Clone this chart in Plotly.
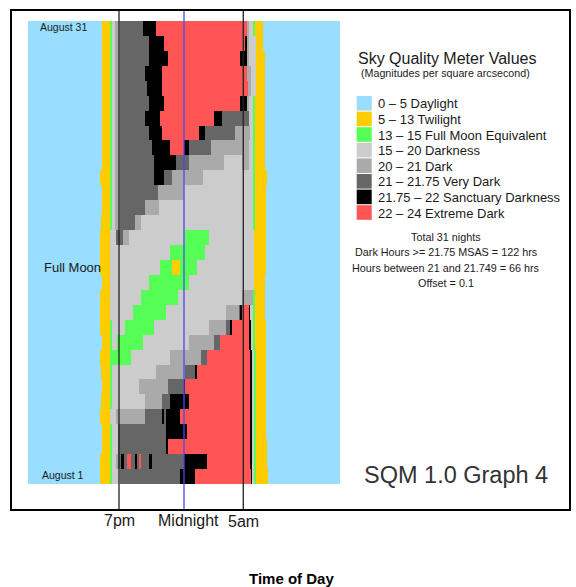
import numpy as np
import plotly.graph_objects as go

# ---------------- data ----------------
level_labels = ["0 – 5 Daylight", "5 – 13 Twilight", "13 – 15 Full Moon Equivalent",
                "15 – 20 Darkness", "20 – 21 Dark", "21 – 21.75 Very Dark",
                "21.75 – 22 Sanctuary Darkness", "22 – 24 Extreme Dark"]
level_colors = ["#99DDFF", "#FFCC00", "#55FF55", "#CCCCCC",
                "#AAAAAA", "#666666", "#000000", "#FF5555"]

night_labels = [f"August {d}" for d in range(1, 32)]

# per night: (SQM level index, end of segment in hours relative to midnight)
night_segments = [
    [(0,-6.46),(1,-5.69),(2,-5.56),(3,-4.92),(5,-0.31),(6,0.85),(7,5.15),(6,5.23),(3,5.38),(2,5.5),(1,6.46),(0,12)],  # Aug 1
    [(0,-6.46),(1,-5.69),(2,-5.56),(3,-5.23),(4,-5.08),(5,-4.85),(6,-4.67),(5,-4.41),(7,-4.1),(5,-3.77),(6,-3.6),(5,-3.46),(7,-3.31),(5,-2.69),(6,-2.48),(5,-0.05),(6,1.75),(7,5.08),(6,5.2),(3,5.35),(2,5.5),(1,6.4),(0,12)],
    [(0,-6.33),(1,-5.69),(2,-5.56),(3,-5.08),(5,-1.41),(6,-1.25),(7,5.08),(6,5.2),(3,5.35),(2,5.5),(1,6.4),(0,12)],
    [(0,-6.33),(1,-5.69),(2,-5.56),(3,-5.08),(5,-1.38),(6,0.23),(7,5.08),(6,5.2),(3,5.35),(2,5.5),(1,6.3),(0,12)],
    [(0,-6.46),(1,-5.69),(3,-5.23),(4,-3.0),(5,-1.69),(6,-1.54),(5,-1.38),(6,-0.31),(7,5.08),(6,5.2),(3,5.35),(2,5.5),(1,6.3),(0,12)],
    [(0,-6.4),(1,-5.69),(2,-5.56),(3,-3.0),(4,-1.69),(5,-1.08),(6,0.38),(7,5.08),(6,5.2),(3,5.35),(2,5.5),(1,6.3),(0,12)],
    [(0,-6.33),(1,-5.69),(2,-5.56),(3,-3.46),(4,-1.23),(5,-0.05),(6,0.08),(7,5.08),(6,5.2),(3,5.35),(2,5.5),(1,6.3),(0,12)],
    [(0,-6.4),(1,-5.69),(2,-5.56),(3,-2.15),(4,0.08),(5,0.85),(6,0.98),(7,5.08),(6,5.2),(3,5.35),(2,5.5),(1,6.3),(0,12)],
    [(0,-6.46),(1,-5.69),(2,-4.08),(3,-1.08),(4,1.31),(5,1.75),(7,5.08),(6,5.2),(3,5.35),(2,5.5),(1,6.3),(0,12)],
    [(0,-6.33),(1,-5.69),(2,-5.56),(3,-5.15),(2,-3.15),(3,0.38),(4,2.31),(5,2.77),(7,5.0),(6,5.15),(3,5.3),(2,5.46),(1,6.3),(0,12)],
    [(0,-6.46),(1,-5.69),(2,-5.56),(3,-4.54),(2,-2.31),(3,1.92),(4,3.23),(5,3.54),(6,3.69),(7,5.0),(6,5.15),(3,5.3),(2,5.46),(1,6.3),(0,12)],
    [(0,-6.46),(1,-5.69),(3,-3.92),(2,-1.41),(3,3.23),(4,4.18),(5,4.31),(6,4.46),(7,5.0),(6,5.08),(3,5.3),(2,5.46),(1,6.23),(0,12)],
    [(0,-6.46),(1,-5.69),(3,-3.31),(2,-0.49),(3,4.46),(4,5.31),(2,5.46),(1,6.23),(0,12)],
    [(0,-6.33),(1,-5.69),(3,-2.69),(2,0.38),(3,5.4),(1,6.23),(0,12)],
    [(0,-6.46),(1,-5.69),(3,-1.85),(2,-0.95),(1,-0.31),(2,0.98),(3,5.4),(1,6.3),(0,12)],
    [(0,-6.46),(1,-5.69),(3,-1.08),(2,1.62),(3,5.4),(1,6.3),(0,12)],
    [(0,-6.46),(1,-5.69),(3,-5.25),(5,-4.69),(4,-4.23),(3,0.02),(2,1.92),(3,5.4),(1,6.3),(0,12)],
    [(0,-6.4),(1,-5.69),(2,-5.56),(3,-5.31),(4,-4.98),(5,-3.77),(4,-3.31),(3,5.3),(2,5.46),(1,6.3),(0,12)],
    [(0,-6.33),(1,-5.69),(2,-5.56),(3,-5.31),(4,-4.98),(5,-3.0),(4,-1.95),(3,5.3),(2,5.46),(1,6.3),(0,12)],
    [(0,-6.33),(1,-5.69),(2,-5.56),(3,-5.31),(4,-4.98),(5,-2.0),(4,0.0),(3,5.3),(2,5.46),(1,6.3),(0,12)],
    [(0,-6.46),(1,-5.69),(2,-5.56),(3,-5.31),(4,-4.98),(5,-2.31),(6,-1.54),(5,-0.92),(4,1.44),(3,5.3),(2,5.46),(1,6.4),(0,12)],
    [(0,-6.33),(1,-5.69),(2,-5.56),(3,-5.31),(4,-4.98),(5,-2.31),(6,-0.62),(5,0.38),(4,3.08),(3,4.46),(4,5.0),(3,5.3),(2,5.46),(1,6.23),(0,12)],
    [(0,-6.33),(1,-5.69),(2,-5.56),(3,-5.31),(4,-4.98),(5,-2.46),(6,-1.08),(7,0.0),(6,0.38),(5,2.08),(4,5.0),(3,5.3),(2,5.46),(1,6.23),(0,12)],
    [(0,-6.33),(1,-5.69),(2,-5.56),(3,-5.31),(4,-4.98),(5,-2.69),(6,-1.69),(7,1.15),(6,1.62),(5,3.92),(4,5.08),(3,5.3),(2,5.46),(1,6.23),(0,12)],
    [(0,-6.33),(1,-5.69),(2,-5.56),(3,-5.31),(4,-4.98),(5,-3.0),(6,-1.85),(7,2.31),(6,2.92),(5,5.0),(3,5.3),(2,5.46),(1,6.23),(0,12)],
    [(0,-6.33),(1,-5.69),(2,-5.56),(3,-5.31),(4,-4.98),(5,-2.69),(6,-1.54),(7,4.31),(6,4.82),(4,5.0),(3,5.3),(2,5.46),(1,6.23),(0,12)],
    [(0,-6.33),(1,-5.69),(2,-5.56),(3,-5.31),(4,-4.98),(5,-2.85),(6,-1.69),(7,4.9),(4,5.1),(3,5.5),(1,6.23),(0,12)],
    [(0,-6.33),(1,-5.69),(2,-5.56),(3,-5.31),(4,-4.98),(5,-3.0),(6,-1.69),(7,4.82),(4,5.15),(3,5.5),(1,6.23),(0,12)],
    [(0,-6.33),(1,-5.69),(2,-5.56),(3,-5.31),(4,-4.98),(5,-2.69),(6,-1.23),(7,4.31),(6,4.82),(4,5.0),(3,5.5),(1,6.23),(0,12)],
    [(0,-6.33),(1,-5.69),(2,-5.56),(3,-5.31),(4,-4.98),(5,-2.69),(6,-1.54),(7,4.69),(6,4.82),(4,5.0),(3,5.5),(1,6.08),(0,12)],
    [(0,-6.33),(1,-5.69),(2,-5.56),(3,-5.31),(4,-4.98),(5,-3.15),(6,-2.15),(7,4.82),(4,5.0),(3,5.28),(2,5.44),(1,6.05),(0,12)],  # Aug 31
]

ref_line_hours = [-5.0, 0.0, 4.56]
ref_line_labels = ["7pm", "Midnight", "5am"]
ref_line_colors = ["#222222", "#4a4af0", "#222222"]

stats_lines = ["Total 31 nights",
               "Dark Hours >= 21.75 MSAS = 122 hrs",
               "Hours between 21 and 21.749 = 66 hrs",
               "Offset = 0.1"]

# ---------------- build grid ----------------
dt = 1.0 / 26.0
x = np.arange(-12 + dt / 2, 12, dt)
z = []
for segs in night_segments:
    ends = np.array([e for _, e in segs])
    lv = np.array([l for l, _ in segs])
    idx = np.clip(np.searchsorted(ends, x, side="right"), 0, len(lv) - 1)
    z.append(lv[idx])
z = np.array(z)

n = len(level_colors)
colorscale = []
for i, c in enumerate(level_colors):
    colorscale.append([i / n, c])
    colorscale.append([(i + 1) / n, c])

W, H = 576, 587
L, R, T, B = 28, 340, 21, 484


def px(v):
    return (v - L) / (R - L)


def py(v):
    return (B - v) / (B - T)


FONT = "Liberation Sans, Arial, Helvetica, sans-serif"
TXT = "#1a1a1a"

fig = go.Figure(go.Heatmap(
    x=x, y=list(range(len(night_labels))), z=z,
    colorscale=colorscale, zmin=-0.5, zmax=n - 0.5,
    showscale=False, zsmooth=False, hoverinfo="skip",
))

shapes = []
annotations = []

# outer frame
shapes.append(dict(type="rect", xref="paper", yref="paper",
                   x0=px(11), x1=px(570), y0=py(510), y1=py(10),
                   line=dict(color="black", width=2), fillcolor="rgba(0,0,0,0)", layer="above"))

# reference time lines + labels
for h, lab, col in zip(ref_line_hours, ref_line_labels, ref_line_colors):
    shapes.append(dict(type="line", xref="x", yref="paper", x0=h, x1=h,
                       y0=py(509), y1=py(11),
                       line=dict(color=col, width=1.3), layer="above"))
    annotations.append(dict(x=h, y=py(520 if lab != "5am" else 521.5), xref="x", yref="paper",
                            text=lab, showarrow=False, xanchor="center", yanchor="middle",
                            xshift=4 if lab == "Midnight" else 0,
                            font=dict(family=FONT, size=16, color=TXT)))

# labels inside heatmap
for txt, cx, cy, fs in [("August 31", 63.5, 27, 10.5), ("Full Moon", 72, 267, 13),
                        ("August 1", 63, 475, 10.5)]:
    annotations.append(dict(x=px(cx), y=py(cy), xref="paper", yref="paper", text=txt,
                            showarrow=False, xanchor="center", yanchor="middle",
                            font=dict(family=FONT, size=fs, color=TXT)))

# legend
annotations.append(dict(x=px(356), y=py(58), xref="paper", yref="paper",
                        text="Sky Quality Meter Values", showarrow=False,
                        xanchor="left", yanchor="middle",
                        font=dict(family=FONT, size=16, color=TXT)))
annotations.append(dict(x=px(446), y=py(73), xref="paper", yref="paper",
                        text="(Magnitudes per square arcsecond)", showarrow=False,
                        xanchor="center", yanchor="middle",
                        font=dict(family=FONT, size=10.7, color=TXT)))
for i, (lab, col) in enumerate(zip(level_labels, level_colors)):
    top = 96 + i * 15.6
    shapes.append(dict(type="rect", xref="paper", yref="paper",
                       x0=px(356.7), x1=px(371.7), y0=py(top + 14.6), y1=py(top),
                       fillcolor=col, line=dict(width=0), layer="above"))
    annotations.append(dict(x=px(376), y=py(top + 7.8), xref="paper", yref="paper",
                            text=lab, showarrow=False, xanchor="left", yanchor="middle",
                            font=dict(family=FONT, size=13, color=TXT)))

for i, s in enumerate(stats_lines):
    annotations.append(dict(x=px(446.3), y=py(236.7 + i * 15.5), xref="paper", yref="paper",
                            text=s, showarrow=False, xanchor="center", yanchor="middle",
                            font=dict(family=FONT, size=10.8, color=TXT)))

annotations.append(dict(x=px(456), y=py(474.5), xref="paper", yref="paper",
                        text="SQM 1.0 Graph 4", showarrow=False, xanchor="center",
                        yanchor="middle", font=dict(family=FONT, size=23.5, color="#333333")))

annotations.append(dict(x=px(291.5), y=py(578), xref="paper", yref="paper",
                        text="<b>Time of Day</b>", showarrow=False, xanchor="center",
                        yanchor="middle", font=dict(family=FONT, size=15, color="black")))

fig.update_layout(
    width=W, height=H,
    margin=dict(l=L, r=W - R, t=T, b=H - B, pad=0),
    paper_bgcolor="white", plot_bgcolor="white",
    xaxis=dict(range=[-12, 12], visible=False, fixedrange=True),
    yaxis=dict(range=[-0.5, len(night_labels) - 0.5], visible=False, fixedrange=True),
    shapes=shapes, annotations=annotations, showlegend=False,
)

fig.write_html("out.html", config={"displayModeBar": False},
               post_script="document.body.style.margin='0';document.body.style.overflow='hidden';")
